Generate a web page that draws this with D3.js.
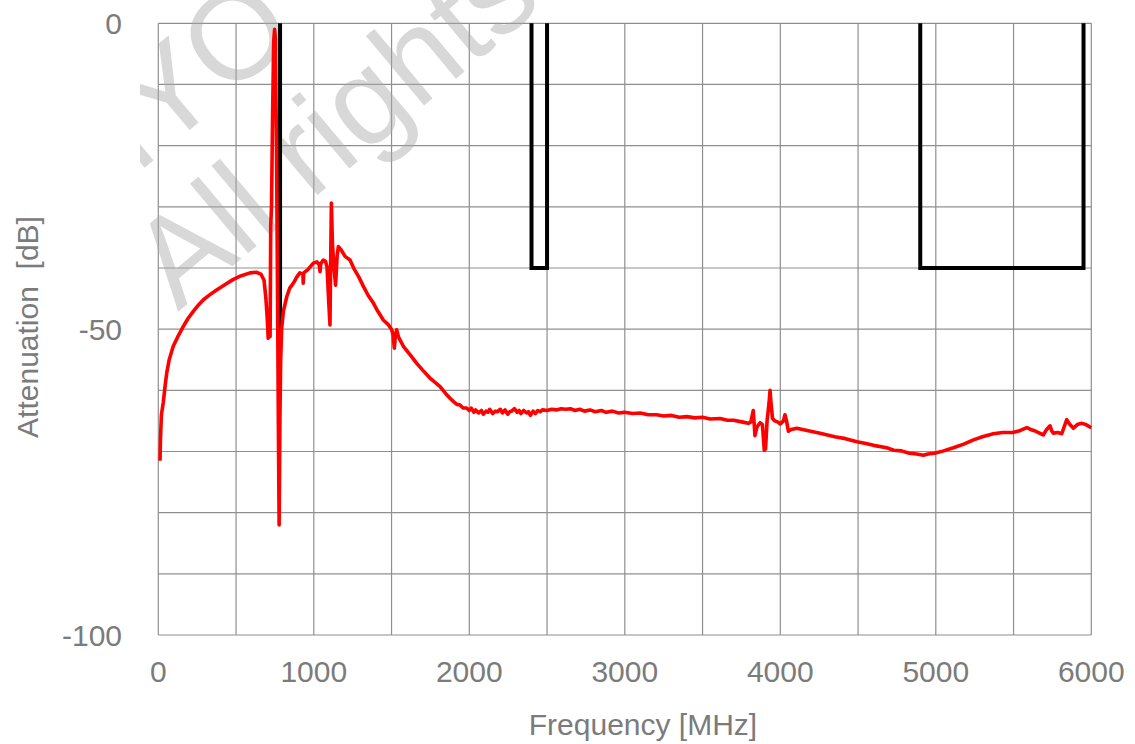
<!DOCTYPE html>
<html>
<head>
<meta charset="utf-8">
<script src="https://cdn.jsdelivr.net/npm/d3@7"></script>
<style>
  body { margin: 0; background: #fff; }
  svg { display: block; font-family: "Liberation Sans", Arial, sans-serif; }
</style>
</head>
<body>
<svg id="chart" width="1135" height="744"></svg>
<script>
// measured response, frequency in MHz and attenuation in dB
const freq = [11, 14, 20, 32, 45, 54, 70, 96, 130, 160, 190, 225, 260, 290, 330, 375, 430, 480, 530, 590, 630, 660, 680, 692, 700, 707, 713, 719,
  723, 728, 735, 742, 748, 753, 760, 767, 772, 777, 782, 787, 793, 805, 826, 845, 868, 890, 910, 930, 932, 935, 960, 997, 1020, 1035, 1040, 1045,
  1061, 1075, 1085, 1095, 1104, 1108, 1113, 1120, 1130, 1140, 1150, 1158, 1175, 1201, 1233, 1260, 1290, 1319, 1350, 1380, 1410, 1447, 1480,
  1501, 1510, 1518, 1525, 1533, 1545, 1576, 1620, 1662, 1700, 1747, 1780, 1812, 1850, 1876, 1897, 1920, 1940, 1960, 1983,
  2000, 2012, 2030, 2041, 2060, 2078, 2090, 2108, 2120, 2131, 2150, 2168, 2180, 2200, 2213, 2230, 2248, 2260, 2272, 2290, 2308, 2320, 2332,
  2350, 2368, 2380, 2393, 2410, 2425, 2440, 2455, 2470, 2500, 2530, 2560, 2590, 2620, 2650, 2680, 2710, 2740, 2776, 2810, 2850, 2880, 2920,
  2960, 2997, 3050, 3100, 3150, 3205, 3250, 3300, 3350, 3400, 3450, 3499, 3550, 3612, 3660,
  3700, 3760, 3794, 3810, 3826, 3832, 3837, 3850, 3870, 3885, 3897, 3905, 3915, 3928, 3934, 3940, 3950, 3965, 3985, 4000, 4020, 4030, 4040,
  4052, 4070, 4106, 4180, 4256, 4350, 4420, 4493, 4550, 4600, 4684, 4730, 4780, 4830, 4877, 4920, 4950, 4991, 5050, 5113, 5180, 5242, 5300, 5370, 5430, 5495, 5540, 5585,
  5610, 5634, 5660, 5691, 5710, 5735, 5745, 5756, 5785, 5810, 5825, 5842, 5860, 5885, 5910, 5939, 5965, 5992, 6000];
const atten = [-71.5, -68, -64, -62, -59, -57.2, -55, -52.8, -51, -49.6, -48.3, -47.1, -46, -45.2, -44.4, -43.6, -42.7, -41.9, -41.3, -40.8, -40.7, -41, -42, -45, -48, -51.5, -50.5, -51.2,
  -33, -30, -15, -3, -1, -2.5, -20, -45, -65, -82, -65, -55, -50, -47, -44.7, -43.3, -42.5, -41.5, -40.8, -41, -42.5, -40.8, -40.3, -39.2, -39, -39.5, -40.6, -39.3,
  -38.7, -38.9, -39.8, -45, -49.3, -40, -29.4, -36, -40, -42.8, -38, -36.5, -37, -38.1, -38.7, -40.2, -41.5, -43, -44.5, -45.6, -47, -48.5, -49.3,
  -50.1, -51, -53.1, -51, -50.1, -51.3, -52.8, -54.2, -55.6, -56.7, -58, -58.7, -59.4, -60.6, -61.3, -61.8, -62.3, -62.4, -62.9, -62.9,
  -63.3, -62.9, -63.6, -63.2, -63.7, -63.3, -63.9, -63.4, -63.6, -63.1, -63.8, -63.4, -63.5, -63.1, -63.7, -63.2, -63.9, -63.5, -63.4, -63.0, -63.6, -63.3, -63.8,
  -63.3, -63.7, -63.5, -64.1, -63.4, -63.8, -63.3, -63.5, -63.2, -63.3, -63.1, -63.2, -63.0, -63.1, -63.0, -63.3, -63.1, -63.4, -63.2, -63.5, -63.3, -63.6, -63.4,
  -63.7, -63.6, -63.8, -63.7, -64.0, -64.0, -64.2, -64.1, -64.4, -64.3, -64.5, -64.4, -64.7, -64.6, -64.9,
  -64.9, -65.2, -65.4, -65.2, -63.3, -65.5, -67.4, -66, -65.3, -65.6, -69.8, -69.6, -65, -62, -60, -62, -64.6, -65, -65.2, -65.5, -65, -64, -65,
  -66.7, -66.4, -66.2, -66.6, -67, -67.6, -67.9, -68.4, -68.7, -69, -69.4, -69.8, -69.9, -70.3, -70.4, -70.6, -70.4, -70.3, -69.9, -69.4, -68.8, -68.1, -67.6, -67.1, -66.9, -66.9, -66.6, -66.1,
  -66.4, -66.6, -66.9, -67.3, -66.5, -65.8, -66.6, -67, -66.9, -67.1, -66, -64.8, -65.5, -66.2, -65.6, -65.4, -65.6, -66, -66.1];

// specification mask (black)
const edgeFreq = 783;
const edgeFloor = -53;
const bandLo = [2400, 4900];
const bandHi = [2500, 5950];
const bandFloor = [-40, -40];

// ticks
const xGridTicks = [0, 500, 1000, 1500, 2000, 2500, 3000, 3500, 4000, 4500, 5000, 5500, 6000];
const yGridTicks = [0, -10, -20, -30, -40, -50, -60, -70, -80, -90, -100];
const xLabelTicks = [0, 1000, 2000, 3000, 4000, 5000, 6000];
const yLabelTicks = [0, -50, -100];

const svg = d3.select("#chart");
const textColor = "#7b7b7b";

const x = d3.scaleLinear().domain([0, 6000]).range([158.3, 1091.3]);
const y = d3.scaleLinear().domain([0, -100]).range([23.3, 635]);

// grid
svg.append("g").selectAll("line").data(xGridTicks).enter().append("line")
    .attr("x1", d => x(d)).attr("x2", d => x(d))
    .attr("y1", y(0)).attr("y2", y(-100))
    .attr("stroke", "#8f8f8f").attr("stroke-width", 1.2);
svg.append("g").selectAll("line").data(yGridTicks).enter().append("line")
    .attr("x1", x(0)).attr("x2", x(6000))
    .attr("y1", d => y(d)).attr("y2", d => y(d))
    .attr("stroke", "#8f8f8f").attr("stroke-width", 1.2);

// watermark (the reference's own stamp, cut at its left side)
svg.append("clipPath").attr("id", "wmclip")
    .append("rect").attr("x", 140).attr("y", 0).attr("width", 995).attr("height", 744);
const wm = svg.append("g")
    .attr("clip-path", "url(#wmclip)")
    .append("g")
    .attr("transform", "translate(178,312) rotate(-40)")
    .attr("fill", "#a8a8a8").attr("fill-opacity", 0.45)
    .style("font-size", "125px");
wm.append("text").attr("x", -95).attr("y", -132).text("TAIYO YUDEN");
wm.append("text").attr("x", 0).attr("y", 0).text("All rights reserved.");

// mask
const line = d3.line().x(d => x(d[0])).y(d => y(d[1]));
svg.append("path")
    .attr("d", line([[edgeFreq, 0], [edgeFreq, edgeFloor]]))
    .attr("fill", "none").attr("stroke", "#000").attr("stroke-width", 4);
bandLo.forEach(function (lo, i) {
    svg.append("path")
        .attr("d", line([[lo, 0], [lo, bandFloor[i]], [bandHi[i], bandFloor[i]], [bandHi[i], 0]]))
        .attr("fill", "none").attr("stroke", "#000").attr("stroke-width", 4)
        .attr("stroke-linejoin", "miter");
});

// response
svg.append("path")
    .attr("d", line(freq.map((f, i) => [f, atten[i]])))
    .attr("fill", "none").attr("stroke", "#ff0000").attr("stroke-width", 3.6)
    .attr("stroke-linejoin", "round");

// tick labels
svg.append("g").selectAll("text").data(xLabelTicks).enter().append("text")
    .attr("x", d => x(d)).attr("y", 682)
    .attr("text-anchor", "middle").attr("fill", textColor)
    .style("font-size", "30px").text(d => d);
svg.append("g").selectAll("text").data(yLabelTicks).enter().append("text")
    .attr("x", 122).attr("y", d => y(d) + 10.5)
    .attr("text-anchor", "end").attr("fill", textColor)
    .style("font-size", "30px").text(d => d);

// axis titles
svg.append("text")
    .attr("x", 643).attr("y", 735)
    .attr("text-anchor", "middle").attr("fill", textColor)
    .style("font-size", "30px").text("Frequency [MHz]");
svg.append("text")
    .attr("transform", "translate(38,327) rotate(-90)")
    .attr("text-anchor", "middle").attr("fill", textColor)
    .style("font-size", "30px").style("white-space", "pre").text("Attenuation  [dB]");
</script>
</body>
</html>
